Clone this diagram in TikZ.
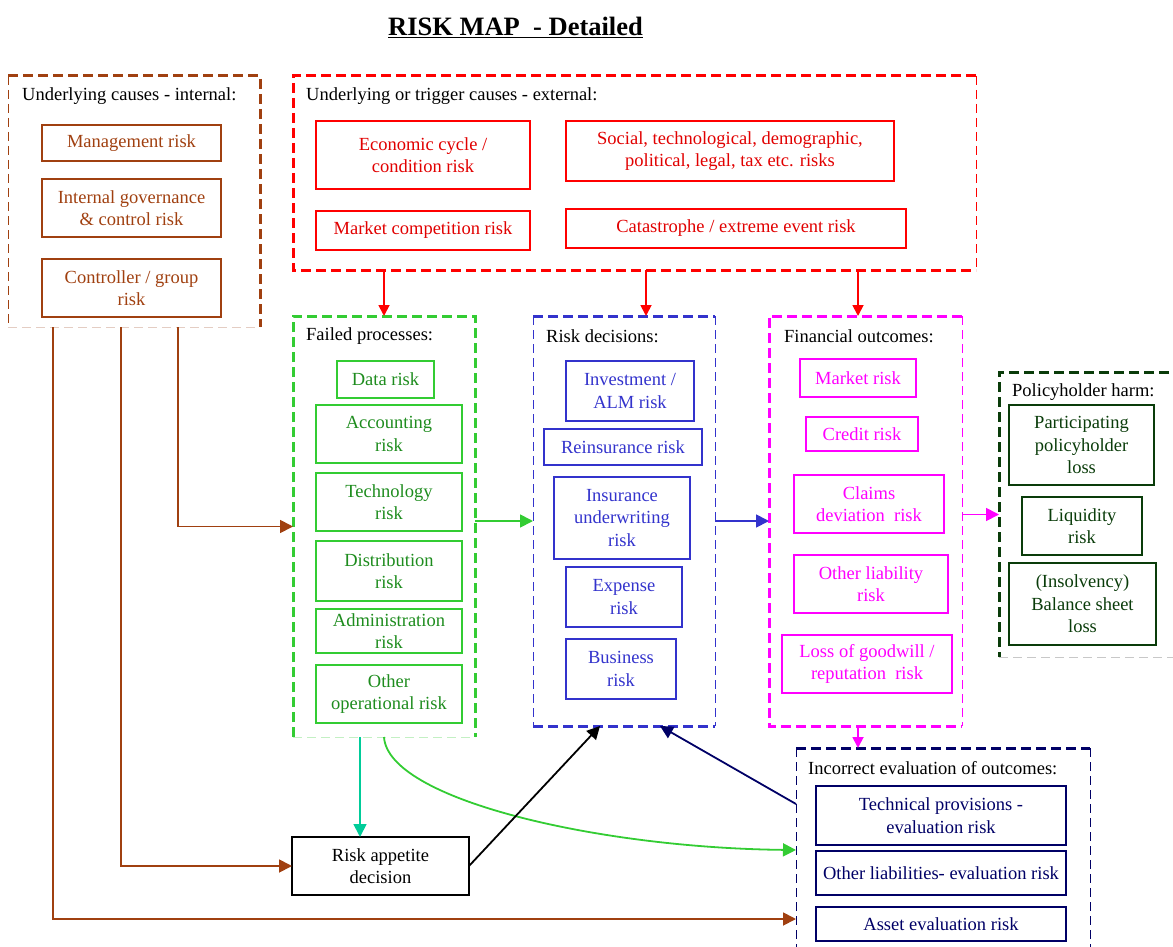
\documentclass[tikz,border=0pt]{standalone}
\usepackage{fontspec}
\setmainfont{Liberation Serif}
\usetikzlibrary{arrows.meta,calc}
\definecolor{cbrown}{RGB}{160,64,16}
\definecolor{lbrown}{RGB}{228,205,195}
\definecolor{cgreen}{RGB}{51,204,51}
\definecolor{lgreen}{RGB}{195,240,195}
\definecolor{tgreen}{RGB}{30,140,30}
\definecolor{cblue}{RGB}{51,51,204}
\definecolor{cmag}{RGB}{255,0,255}
\definecolor{cdkgreen}{RGB}{10,60,10}
\definecolor{lgray}{RGB}{200,200,200}
\definecolor{cnavy}{RGB}{0,0,102}
\definecolor{cteal}{RGB}{0,204,153}
\definecolor{cred}{RGB}{255,0,0}
\definecolor{tred}{RGB}{225,0,0}
\begin{document}
\begin{tikzpicture}[x=1pt,y=-1pt,
  every node/.style={font=\fontsize{18.5}{22.5}\selectfont},
  rbox/.style={draw=#1, line width=1.8pt, inner sep=0pt, outer sep=0pt, align=center},
  cont/.style={inner sep=0pt, outer sep=0pt},
  lbl/.style={anchor=west, inner sep=0pt, text=black},
  thickd/.style={draw=#1, line width=3pt, dash pattern=on 10pt off 5pt},
  thind/.style={draw=#1, line width=1pt, dash pattern=on 9pt off 5pt},
  arr/.style={draw=#1, line width=1.8pt, -{Triangle[length=13pt,width=13pt]}},
  sarr/.style={draw=#1, line width=1.8pt, -{Triangle[length=11pt,width=11pt]}}
]
\useasboundingbox (0,0) rectangle (1173,947);

% title
\node (T) at (515.5,27) {\fontsize{26.5}{30}\selectfont\bfseries\underline{RISK MAP~ - Detailed}};

% ---------- containers ----------
\node[cont, minimum width=252pt, minimum height=251pt] (Int) at (134,201.5) {};
\draw[thickd=cbrown] (Int.north west) -- (Int.north east) -- (Int.south east);
\draw[thind=cbrown] (Int.north west) -- (Int.south west);
\draw[thind=lbrown] (Int.south west) -- (Int.south east);
\node[lbl] (IntL) at (22,96) {Underlying causes - internal:};

\node[cont, minimum width=683pt, minimum height=194pt] (Ext) at (634.5,173) {};
\draw[thickd=cred] (Ext.north east) -- (Ext.north west) -- (Ext.south west) -- (Ext.south east);
\draw[thind=cred] (Ext.north east) -- (Ext.south east);
\node[lbl] (ExtL) at (306,96) {Underlying or trigger causes - external:};

\node[cont, minimum width=182pt, minimum height=421pt] (Fail) at (384,526.5) {};
\draw[thickd=cgreen] (Fail.south west) -- (Fail.north west) -- (Fail.north east) -- (Fail.south east);
\draw[thind=lgreen] (Fail.south west) -- (Fail.south east);
\node[lbl] (FailL) at (306,336) {Failed processes:};

\node[cont, minimum width=182pt, minimum height=410pt] (Dec) at (624,521) {};
\draw[thickd=cblue] (Dec.north west) -- (Dec.north east);
\draw[thickd=cblue] (Dec.south west) -- (Dec.south east);
\draw[thind=cblue] (Dec.north west) -- (Dec.south west);
\draw[thind=cblue] (Dec.north east) -- (Dec.south east);
\node[lbl] (DecL) at (546,336) {Risk decisions:};

\node[cont, minimum width=193pt, minimum height=410pt] (Fin) at (865.5,521) {};
\draw[thickd=cmag] (Fin.north east) -- (Fin.north west) -- (Fin.south west) -- (Fin.south east);
\draw[thind=cmag] (Fin.north east) -- (Fin.south east);
\node[lbl] (FinL) at (784,336) {Financial outcomes:};

\node[cont, minimum width=200pt, minimum height=285pt] (PH) at (1099,514.5) {};
\draw[thickd=cdkgreen] (PH.north east) -- (PH.north west) -- (PH.south west);
\draw[thind=lgray] (PH.south west) -- (PH.south east);
\node[lbl] (PHL) at (1012,392) {Policyholder harm:};

\node[cont, minimum width=294pt, minimum height=230pt] (Ev) at (943,863) {};
\draw[thickd=cnavy] (Ev.north west) -- (Ev.north east);
\draw[thind=cnavy] (Ev.north west) -- (Ev.south west);
\draw[thind=cnavy] (Ev.north east) -- (Ev.south east);
\node[lbl] (EvL) at (808,768) {Incorrect evaluation of outcomes:};

% ---------- inner boxes ----------
\begin{scope}[every node/.append style={text=cbrown}]
\node[rbox=cbrown, minimum width=179pt, minimum height=36pt] (Mgmt) at (131.5,143) {Management risk};
\node[rbox=cbrown, minimum width=179pt, minimum height=58pt] (Gov) at (131.5,208) {Internal governance\\ \& control risk};
\node[rbox=cbrown, minimum width=179pt, minimum height=58pt] (Ctrl) at (131.5,288) {Controller / group\\risk};
\end{scope}

\begin{scope}[every node/.append style={text=tred}]
\node[rbox=cred, minimum width=214pt, minimum height=68pt] (Econ) at (423,155) {Economic cycle /\\condition risk};
\node[rbox=cred, minimum width=328pt, minimum height=60pt] (Soc) at (730,151) {Social, technological, demographic,\\political, legal, tax etc. risks};
\node[rbox=cred, minimum width=214pt, minimum height=39pt] (Comp) at (423,230.5) {Market competition risk};
\node[rbox=cred, minimum width=340pt, minimum height=39pt] (Cat) at (736,228.5) {Catastrophe / extreme event risk};
\end{scope}

\begin{scope}[every node/.append style={text=tgreen}]
\node[rbox=cgreen, minimum width=97pt, minimum height=37pt] (Data) at (385.5,379.5) {Data risk};
\node[rbox=cgreen, minimum width=146pt, minimum height=58pt] (Acc) at (389,434) {Accounting\\risk};
\node[rbox=cgreen, minimum width=146pt, minimum height=58pt] (Tech) at (389,502) {Technology\\risk};
\node[rbox=cgreen, minimum width=146pt, minimum height=60pt] (Dist) at (389,571) {Distribution\\risk};
\node[rbox=cgreen, minimum width=146pt, minimum height=44pt] (Adm) at (389,631) {Administration\\risk};
\node[rbox=cgreen, minimum width=146pt, minimum height=58pt] (Oop) at (389,694) {Other\\operational risk};
\end{scope}

\begin{scope}[every node/.append style={text=cblue}]
\node[rbox=cblue, minimum width=128pt, minimum height=60pt] (Inv) at (630,391) {Investment /\\ALM risk};
\node[rbox=cblue, minimum width=158pt, minimum height=36pt] (Rein) at (623,447) {Reinsurance risk};
\node[rbox=cblue, minimum width=136pt, minimum height=82pt] (Uw) at (622,518) {Insurance\\underwriting\\risk};
\node[rbox=cblue, minimum width=116pt, minimum height=60pt] (Exp) at (624,597) {Expense\\risk};
\node[rbox=cblue, minimum width=110pt, minimum height=60pt] (Bus) at (621,669) {Business\\risk};
\end{scope}

\begin{scope}[every node/.append style={text=cmag}]
\node[rbox=cmag, minimum width=116pt, minimum height=38pt] (Mkt) at (858,378) {Market risk};
\node[rbox=cmag, minimum width=112pt, minimum height=34pt] (Cred) at (862,434) {Credit risk};
\node[rbox=cmag, minimum width=150pt, minimum height=58pt] (Clm) at (869,504) {Claims\\deviation~ risk};
\node[rbox=cmag, minimum width=154pt, minimum height=58pt] (OLiab) at (871,584) {Other liability\\risk};
\node[rbox=cmag, minimum width=170pt, minimum height=58pt] (Good) at (867,664) {Loss of goodwill /\\reputation~ risk};
\end{scope}

\begin{scope}[every node/.append style={text=cdkgreen}]
\node[rbox=cdkgreen, minimum width=145pt, minimum height=80pt] (Part) at (1081.5,445) {Participating\\policyholder\\loss};
\node[rbox=cdkgreen, minimum width=120pt, minimum height=58pt] (Liq) at (1082,526) {Liquidity\\risk};
\node[rbox=cdkgreen, minimum width=147pt, minimum height=82pt] (Insol) at (1082.5,604) {(Insolvency)\\Balance sheet\\loss};
\end{scope}

\begin{scope}[every node/.append style={text=cnavy}]
\node[rbox=cnavy, minimum width=250pt, minimum height=59pt] (TP) at (941,815.5) {Technical provisions -\\evaluation risk};
\node[rbox=cnavy, minimum width=250pt, minimum height=44pt] (OLE) at (941,873) {Other liabilities- evaluation risk};
\node[rbox=cnavy, minimum width=250pt, minimum height=34pt] (AE) at (941,924) {Asset evaluation risk};
\end{scope}

\node[rbox=black, minimum width=177pt, minimum height=58pt] (RA) at (380.5,866) {Risk appetite\\decision};

% ---------- helper coordinates ----------
\coordinate (r1) at (384,0);
\coordinate (r2) at (646,0);
\coordinate (r3) at (858,0);
\coordinate (b1) at (178,0);
\coordinate (b2) at (121,0);
\coordinate (b3) at (53,0);
\coordinate (yA) at (0,919);
\coordinate (yG) at (0,850);
\coordinate (yN) at (0,804);
\coordinate (xt) at (360,0);
\coordinate (xk) at (600,0);
\coordinate (xn) at (660,0);

% ---------- connectors ----------
\draw[sarr=cred] (Ext.south -| r1) -- (Fail.north -| r1);
\draw[sarr=cred] (Ext.south -| r2) -- (Dec.north -| r2);
\draw[sarr=cred] (Ext.south -| r3) -- (Fin.north -| r3);

\draw[arr=cbrown] (Int.south -| b1) |- (Fail.west);
\draw[arr=cbrown] (Int.south -| b2) |- (RA.west);
\draw[arr=cbrown] (Int.south -| b3) |- (Ev.west |- yA);

\draw[arr=cgreen] (Fail.east |- Dec.west) -- (Dec.west);
\draw[arr=cblue] (Dec.east) -- (Fin.west);
\draw[arr=cmag] (Fin.east |- PH.west) -- (PH.west);
\draw[sarr=cmag] (Fin.south -| r3) -- (Ev.north -| r3);

\draw[arr=cteal] (Fail.south -| xt) -- (RA.north -| xt);
\draw[arr=cgreen] (Fail.south) .. controls (388,800) and (600,848) .. (Ev.west |- yG);
\draw[arr=black] (RA.east) -- (Dec.south -| xk);
\draw[arr=cnavy] (Ev.west |- yN) -- (Dec.south -| xn);
\end{tikzpicture}
\end{document}
